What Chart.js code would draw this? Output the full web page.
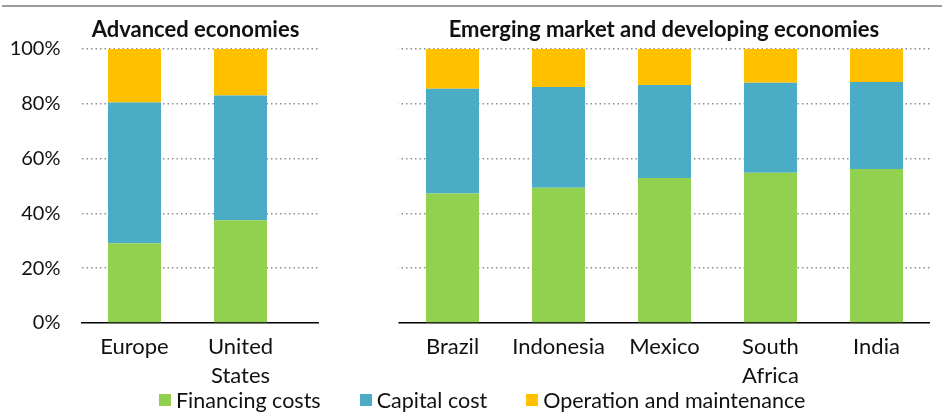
<!DOCTYPE html>
<html>
<head>
<meta charset="utf-8">
<script src="https://cdn.jsdelivr.net/npm/chart.js@4/dist/chart.umd.min.js"></script>
<style>
  html, body { margin: 0; padding: 0; background: #fff; }
  #wrap { position: relative; width: 942px; height: 412px; overflow: hidden; font-family: Lato, "Open Sans", sans-serif; color: #111; }
  #topline { position: absolute; left: 2px; top: 5px; width: 940px; height: 2px; background: #9a9a9a; }
  canvas { position: absolute; left: 0; top: 0; }
  .title { position: absolute; top: 16px; font-weight: bold; font-size: 22px; line-height: 26px; white-space: nowrap; transform: translateX(-50%); }
  #legend { position: absolute; left: 159px; top: 388px; display: flex; gap: 39px; font-size: 21.5px; line-height: 24px; white-space: nowrap; }
  .item { display: flex; align-items: center; }
  .sw { width: 12px; height: 12px; margin-right: 5px; }
</style>
</head>
<body>
<div id="wrap">
  <div id="topline"></div>
  <canvas id="c" width="942" height="412"></canvas>
  <div class="title" id="t1" style="left:195.5px"></div>
  <div class="title" id="t2" style="left:664px"></div>
  <div id="legend"></div>
</div>
<script>
// ---- data ----
const panelTitles = ['Advanced economies', 'Emerging market and developing economies'];
const categories = ['Europe', ['United', 'States'], '', 'Brazil', 'Indonesia', 'Mexico', ['South', 'Africa'], 'India'];
const seriesNames = ['Financing costs', 'Capital cost', 'Operation and maintenance'];
const financingCosts = [29.1, 37.5, null, 47.3, 49.4, 52.9, 54.8, 56.2];
const capitalCost    = [51.4, 45.5, null, 38.2, 36.7, 34.0, 32.9, 31.8];
const operationMaint = [19.5, 17.0, null, 14.5, 13.9, 13.1, 12.3, 12.0];
const yTicks = [0, 20, 40, 60, 80, 100];

// ---- styles ----
const seriesColors = ['#92D050', '#4BACC6', '#FFC000'];
const FONT = 'Lato';

document.getElementById('t1').textContent = panelTitles[0];
document.getElementById('t2').textContent = panelTitles[1];
const lg = document.getElementById('legend');
seriesNames.forEach((n, i) => {
  const it = document.createElement('div'); it.className = 'item';
  const sw = document.createElement('div'); sw.className = 'sw'; sw.style.background = seriesColors[i];
  const tx = document.createElement('span'); tx.textContent = n;
  it.appendChild(sw); it.appendChild(tx); lg.appendChild(it);
});

// erase the gridlines/axis between the two panels (gap in category units)
const panelGap = {
  id: 'panelGap',
  beforeDatasetsDraw(chart, args, opts) {
    const x = chart.scales.x, a = chart.chartArea, ctx = chart.ctx;
    const l = x.getPixelForValue(opts.from), r = x.getPixelForValue(opts.to);
    ctx.save(); ctx.fillStyle = '#fff';
    ctx.fillRect(l, a.top - 4, r - l, a.bottom - a.top + 6);
    ctx.restore();
  }
};

const datasets = [financingCosts, capitalCost, operationMaint].map((d, i) => ({
  label: seriesNames[i], data: d, backgroundColor: seriesColors[i],
  borderWidth: 0, barPercentage: 0.5, categoryPercentage: 1.0
}));

new Chart(document.getElementById('c'), {
  type: 'bar',
  data: { labels: categories, datasets },
  plugins: [panelGap],
  options: {
    responsive: false, animation: false, devicePixelRatio: 1,
    layout: { padding: { top: 49, right: 12.5, left: 0, bottom: 0 } },
    plugins: { legend: { display: false }, tooltip: { enabled: false }, title: { display: false },
      panelGap: { from: 1.74, to: 2.49 } },
    scales: {
      x: {
        stacked: true,
        grid: { display: false },
        border: { display: true, color: '#000', width: 1.5 },
        ticks: { color: '#111', font: { family: FONT, size: 22, lineHeight: 1.3 }, padding: 2, maxRotation: 0, autoSkip: false },
        afterFit: s => { s.height = 89; }
      },
      y: {
        stacked: true, min: 0, max: 100,
        afterBuildTicks: s => { s.ticks = yTicks.map(v => ({ value: v })); },
        grid: { drawTicks: false, lineWidth: 1.5,
          color: c => (c.tick && c.tick.value === 0) ? 'rgba(0,0,0,0)' : '#8f8f8f',
          borderDash: [1.5, 3] },
        border: { display: false, dash: [1.5, 3] },
        ticks: { color: '#111', font: { family: FONT, size: 20 }, padding: 21, callback: v => v + '%' },
        afterFit: s => { s.width = 81.5; }
      }
    }
  }
});
</script>
</body>
</html>
